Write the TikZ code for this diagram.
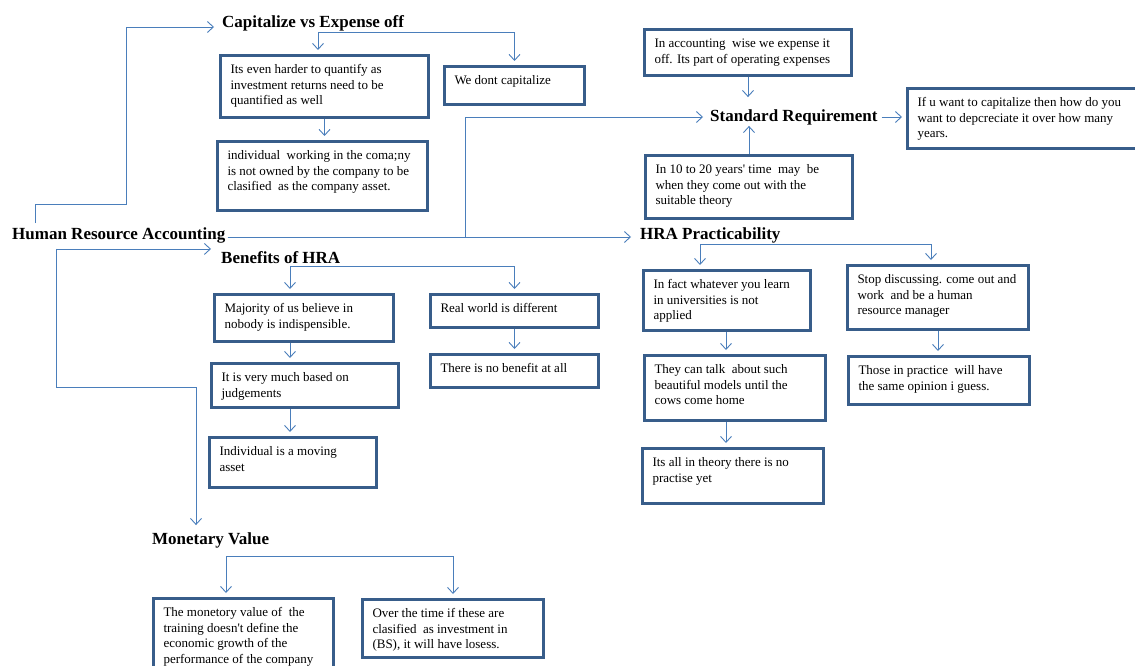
\documentclass[tikz,border=0pt]{standalone}
\usepackage{fontspec}
\setmainfont{Liberation Serif}
\usetikzlibrary{arrows.meta,calc}
\definecolor{conn}{HTML}{4A7EBB}
\definecolor{boxc}{HTML}{385D8A}
\newcommand\btext[3]{\parbox[t][\dimexpr#2pt-14pt\relax][t]{\dimexpr#1pt-20pt\relax}{\begin{tabular}[t]{@{}l@{}}#3\end{tabular}}}
\newcommand\tboxnode[6]{\node[tbox] (#1) at (#2,#3) {\btext{#4}{#5}{#6}};}
\begin{document}
\begin{tikzpicture}[x=1pt,y=-1pt,
  tbox/.style={draw=boxc, line width=3pt, inner xsep=10pt, inner ysep=7pt, anchor=north west, font=\fontsize{13}{15.7}\selectfont},
  ttl/.style={font=\fontsize{17}{20}\selectfont\bfseries, inner sep=0pt, anchor=west},
  arr/.style={draw=conn, line width=0.9pt, -{Straight Barb[length=6pt,width=11pt]}},
  arrb/.style={arr, shorten >=4pt}]
\clip (0,0) rectangle (1135,666);
\fill[white] (0,0) rectangle (1135,666);

% titles
\node[ttl] (cap) at (222,23) {Capitalize vs Expense off};
\node[ttl] (std) at (710,117) {Standard Requirement};
\node[ttl] (hra) at (12,235) {Human Resource Accounting};
\node[ttl] (prac) at (640,235) {HRA Practicability};
\node[ttl] (ben) at (221,258) {Benefits of HRA};
\node[ttl] (mon) at (152,540) {Monetary Value};

% boxes
\tboxnode{b1}{219}{54}{208}{62}{Its even harder to quantify as\\investment returns need to be\\quantified as well}
\tboxnode{b2}{216}{140}{210}{69}{individual\ \ working in the coma;ny\\is not owned by the company to be\\clasified\ \ as the company asset.}
\tboxnode{b3}{443}{65}{140}{38}{We dont capitalize}
\tboxnode{b9}{643}{28}{207}{46}{In accounting\ \ wise we expense it\\off. Its part of operating expenses}
\tboxnode{b10}{906}{87}{232}{60}{If u want to capitalize then how do you\\want to depcreciate it over how many\\years.}
\tboxnode{b11}{644}{154}{207}{63}{In 10 to 20 years\textquotesingle\ time\ \ may\ \ be\\when they come out with the\\suitable theory}
\tboxnode{b4}{213}{293}{179}{47}{Majority of us believe in\\nobody is indispensible.}
\tboxnode{b5}{210}{362}{187}{44}{It is very much based on\\judgements}
\tboxnode{b6}{208}{436}{167}{50}{Individual is a moving\\asset}
\tboxnode{b7}{429}{293}{168}{33}{Real world is different}
\tboxnode{b8}{429}{353}{168}{33}{There is no benefit at all}
\tboxnode{b12}{642}{269}{167}{60}{In fact whatever you learn\\in universities is not\\applied}
\tboxnode{b13}{643}{354}{181}{65}{They can talk\ \ about such\\beautiful models until the\\cows come home}
\tboxnode{b14}{641}{447}{181}{55}{Its all in theory there is no\\practise yet}
\tboxnode{b15}{846}{264}{181}{64}{Stop discussing. come out and\\work\ \ and be a human\\resource manager}
\tboxnode{b16}{847}{355}{181}{48}{Those in practice\ \ will have\\the same opinion i guess.}
\tboxnode{b17}{152}{597}{180}{80}{The monetory value of\ \ the\\training doesn\textquotesingle t define the\\economic growth of the\\performance of the company}
\tboxnode{b18}{361}{598}{181}{58}{Over the time if these are\\clasified\ \ as investment in\\(BS), it will have losess.}

% junction coordinates
\coordinate (h1) at ($(hra.north west)+(23,-4)$);
\coordinate (hs) at ($(hra.east)+(2,2)$);
\coordinate (hb) at ($(hra.south west)+(44,6)$);
\coordinate (hm) at (196,387);
\coordinate (capj) at (318,32);
\coordinate (bj) at (290,266);
\coordinate (pj) at (700,244);
\coordinate (mj) at (226,556);

% HRA connectors
\draw[arr] (h1) -- (35,204) -- (126,204) |- ($(cap.west)+(-8,4)$);
\draw[arr] (hs) -| ($(std.west)+(-245,0)$) -- ($(std.west)+(-7,0)$);
\draw[arr] (hs) -- ($(prac.west |- hs)+(-9,0)$);
\draw[arr] (hb) -- ($(ben.west |- hb)+(-10,0)$);
\draw[arr] (hb) |- (hm) -- ($(hm |- mon.north)+(0,-7)$);

% capitalize branch
\draw[arrb] (capj) -- (capj |- b1.north);
\draw[arrb] (capj) -| (b3.north);
\draw[arrb] (b1.south) -- (b1.south |- b2.north);

% standard requirement
\draw[arr] (b9.south) -- ($(b9.south |- std.north)+(0,-12)$);
\draw[arr] (b11.north) -- ($(b11.north |- std.south)+(0,1)$);
\draw[arr] ($(std.east)+(4,0)$) -- ($(b10.west |- std.east)+(-4,0)$);

% benefits
\draw[arrb] (bj) -- (bj |- b4.north);
\draw[arrb] (bj) -| (b7.north);
\draw[arrb] (b4.south -| bj) -- (b5.north -| bj);
\draw[arrb] (b5.south -| bj) -- (b6.north -| bj);
\draw[arrb] (b7.south) -- (b8.north);

% practicability
\draw[arrb] (pj) -- (pj |- b12.north);
\draw[arrb] (pj) -| ($(b15.north)+(-7,0)$);
\draw[arrb] ($(b12.south)+(-1,0)$) -- ($(b12.south |- b13.north)+(-1,0)$);
\draw[arrb] ($(b12.south |- b13.south)+(-1,0)$) -- ($(b12.south |- b14.north)+(-1,0)$);
\draw[arrb] (b15.south) -- (b15.south |- b16.north);

% monetary value
\draw[arrb] (mj) -- (mj |- b17.north);
\draw[arrb] (mj) -| (b18.north);
\end{tikzpicture}
\end{document}
